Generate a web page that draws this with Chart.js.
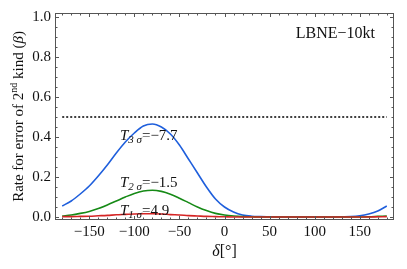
<!DOCTYPE html>
<html>
<head>
<meta charset="utf-8">
<script src="https://cdn.jsdelivr.net/npm/chart.js@4.4.1/dist/chart.umd.min.js"></script>
<style>
  html, body { margin: 0; padding: 0; background: #fff; }
  #wrap { width: 407px; height: 269px; }
</style>
</head>
<body>
<div id="wrap"><canvas id="c" width="407" height="269"></canvas></div>
<script>
// ── Data ─────────────────────────────────────────────────────
const DELTA = [-180, -170, -160, -150, -140, -130, -120, -110, -100, -90, -80, -70, -60, -50, -40,
               -30, -20, -10, 0, 10, 20, 30, 40, 50, 60, 70, 80, 90, 100, 110, 120, 130, 140, 150,
               160, 170, 180];

const BETA_T3 = [0.055, 0.08, 0.115, 0.155, 0.205, 0.26, 0.32, 0.375, 0.42, 0.455, 0.465, 0.45, 0.415,
                 0.36, 0.29, 0.22, 0.15, 0.09, 0.05, 0.025, 0.01, 0.004, 0.002, 0.001, 0, 0, 0, 0, 0,
                 0, 0, 0.001, 0.002, 0.006, 0.015, 0.03, 0.055];

const BETA_T2 = [0.005, 0.01, 0.018, 0.028, 0.042, 0.06, 0.08, 0.1, 0.118, 0.13, 0.134, 0.128, 0.114,
                 0.094, 0.072, 0.05, 0.032, 0.018, 0.01, 0.005, 0.002, 0.001, 0, 0, 0, 0, 0, 0, 0,
                 0, 0, 0, 0, 0, 0.001, 0.003, 0.005];

const BETA_T1 = [0.002, 0.002, 0.003, 0.004, 0.006, 0.008, 0.011, 0.013, 0.015, 0.016, 0.016, 0.015,
                 0.012, 0.01, 0.007, 0.005, 0.003, 0.002, 0.001, 0, 0, 0, 0, 0, 0, 0, 0, 0, 0, 0, 0,
                 0, 0, 0, 0, 0.001, 0.002];

const LIMIT_X = [-180, 180];
const LIMIT_Y = [0.5, 0.5];

const X_TICKS = [-150, -100, -50, 0, 50, 100, 150];
const Y_TICKS = [0.0, 0.2, 0.4, 0.6, 0.8, 1.0];

const CURVE_LABELS = [
  { sub: '3', value: '\u22127.7' },
  { sub: '2', value: '\u22121.5' },
  { sub: '1', value: '4.9' }
];

// ── Helpers ──────────────────────────────────────────────────
const SERIF = '"Liberation Serif", "DejaVu Serif", serif';
const pts = (xs, ys) => xs.map((x, i) => ({ x, y: ys[i] }));
const fmtX = v => (v < 0 ? '\u2212' + Math.abs(v) : String(v));

function lineSet(data, color) {
  return {
    data, borderColor: color, borderWidth: 1.6,
    pointRadius: 0, cubicInterpolationMode: 'monotone', fill: false
  };
}

// Frame + inward ticks on all four sides, Mathematica style
const framePlugin = {
  id: 'frame',
  afterDraw(chart) {
    const { ctx, chartArea: a, scales: { x, y } } = chart;
    ctx.save();
    ctx.strokeStyle = '#555';
    ctx.lineWidth = 1;
    ctx.strokeRect(a.left + 0.5, a.top + 0.5, a.right - a.left - 1, a.bottom - a.top - 1);

    ctx.beginPath();
    for (let v = -180; v <= 180; v += 10) {
      const px = Math.round(x.getPixelForValue(v)) + 0.5;
      const len = X_TICKS.includes(v) ? 4 : 2.5;
      ctx.moveTo(px, a.bottom); ctx.lineTo(px, a.bottom - len);
      ctx.moveTo(px, a.top);    ctx.lineTo(px, a.top + len);
    }
    for (let i = 0; i <= 20; i++) {
      const v = i * 0.05;
      const py = Math.round(y.getPixelForValue(v)) + 0.5;
      const len = i % 4 === 0 ? 4 : 2.5;
      ctx.moveTo(a.left, py);  ctx.lineTo(a.left + len, py);
      ctx.moveTo(a.right, py); ctx.lineTo(a.right - len, py);
    }
    ctx.stroke();
    ctx.restore();
  }
};

// Curve labels, experiment tag and axis titles
const textPlugin = {
  id: 'texts',
  afterDraw(chart) {
    const { ctx, chartArea: a, scales: { x, y } } = chart;
    ctx.save();
    ctx.fillStyle = '#111';
    ctx.textBaseline = 'alphabetic';

    // T_{n sigma} = value
    const baseVals = [0.385, 0.15, 0.008];
    CURVE_LABELS.forEach((lab, i) => {
      let px = x.getPixelForValue(-116);
      const py = y.getPixelForValue(baseVals[i]);
      ctx.font = 'italic 15px ' + SERIF;
      ctx.fillText('T', px, py);
      px += ctx.measureText('T').width;
      ctx.font = 'italic 11px ' + SERIF;
      const sub = lab.sub + ' \u03c3';
      ctx.fillText(sub, px, py + 3);
      px += ctx.measureText(sub).width;
      ctx.font = '15px ' + SERIF;
      ctx.fillText('=' + lab.value, px, py);
    });

    // experiment tag
    ctx.font = '16px ' + SERIF;
    ctx.textAlign = 'right';
    ctx.fillText('LBNE\u221210kt', a.right - 19, a.top + 25);

    // x title: δ[°]
    ctx.textAlign = 'left';
    ctx.font = 'italic 16px ' + SERIF;
    const dW = ctx.measureText('\u03b4').width;
    ctx.font = '16px ' + SERIF;
    const rW = ctx.measureText('[\u00b0]').width;
    let tx = (a.left + a.right) / 2 - (dW + rW) / 2;
    ctx.font = 'italic 16px ' + SERIF;
    ctx.fillText('\u03b4', tx, 256);
    ctx.font = '16px ' + SERIF;
    ctx.fillText('[\u00b0]', tx + dW, 256);

    // y title, rotated
    const parts = [
      { t: 'Rate for error of 2', f: '15px ' + SERIF, dy: 0 },
      { t: 'nd', f: '10px ' + SERIF, dy: -6 },
      { t: ' kind (', f: '15px ' + SERIF, dy: 0 },
      { t: '\u03b2', f: 'italic 15px ' + SERIF, dy: 0 },
      { t: ')', f: '15px ' + SERIF, dy: 0 }
    ];
    let total = 0;
    parts.forEach(p => { ctx.font = p.f; p.w = ctx.measureText(p.t).width; total += p.w; });
    ctx.translate(23, (a.top + a.bottom) / 2);
    ctx.rotate(-Math.PI / 2);
    let cx = -total / 2;
    parts.forEach(p => { ctx.font = p.f; ctx.fillText(p.t, cx, p.dy); cx += p.w; });
    ctx.restore();
  }
};

// ── Chart ────────────────────────────────────────────────────
new Chart(document.getElementById('c'), {
  type: 'line',
  data: {
    datasets: [
      lineSet(pts(DELTA, BETA_T1), '#d42424'),
      lineSet(pts(DELTA, BETA_T2), '#168a16'),
      lineSet(pts(DELTA, BETA_T3), '#1f5fdc'),
      { ...lineSet(pts(LIMIT_X, LIMIT_Y), '#111'), borderDash: [2, 2], cubicInterpolationMode: 'default' }
    ]
  },
  options: {
    responsive: false,
    animation: false,
    layout: { padding: { top: 9, right: 13, left: 0, bottom: 0 } },
    plugins: { legend: { display: false }, tooltip: { enabled: false } },
    scales: {
      x: {
        type: 'linear', min: -188, max: 188,
        afterBuildTicks: s => { s.ticks = X_TICKS.map(v => ({ value: v })); },
        afterFit: s => { s.height = 49; },
        grid: { display: false, drawTicks: false },
        border: { display: false },
        ticks: { color: '#111', padding: 3, maxRotation: 0, autoSkip: false,
                 font: { family: SERIF, size: 15 }, callback: v => fmtX(v) }
      },
      y: {
        min: -0.015, max: 1.02,
        afterBuildTicks: s => { s.ticks = Y_TICKS.map(v => ({ value: v })); },
        afterFit: s => { s.width = 55; },
        grid: { display: false, drawTicks: false },
        border: { display: false },
        ticks: { color: '#111', padding: 4, autoSkip: false,
                 font: { family: SERIF, size: 15 }, callback: v => v.toFixed(1) }
      }
    }
  },
  plugins: [framePlugin, textPlugin]
});
</script>
</body>
</html>
